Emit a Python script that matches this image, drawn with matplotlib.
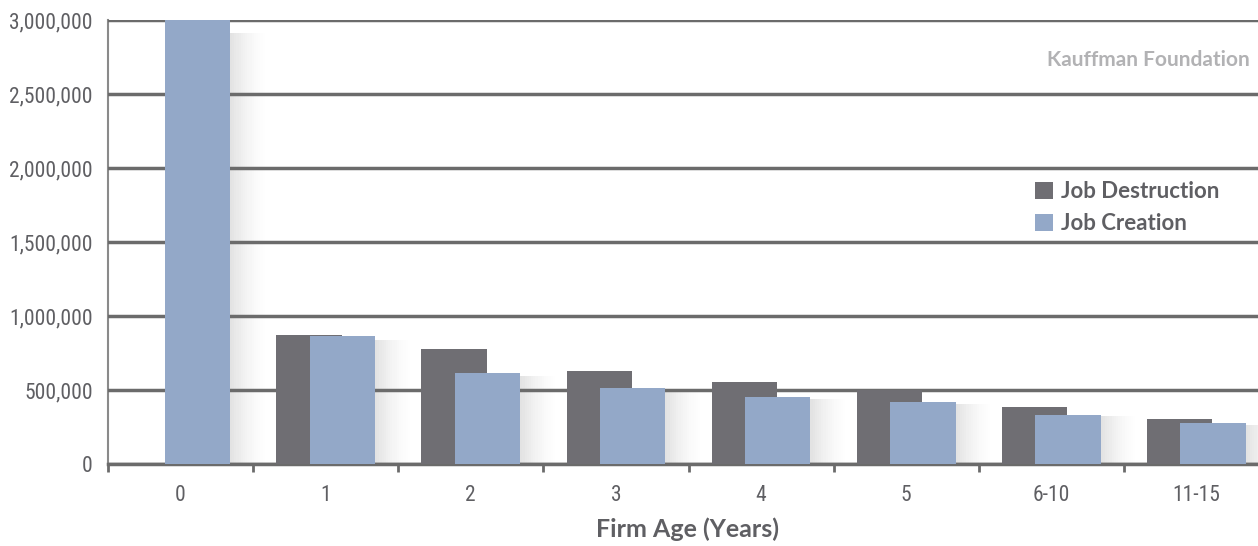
import matplotlib.pyplot as plt
import numpy as np
from matplotlib.ticker import FuncFormatter
from matplotlib.patches import Rectangle
from matplotlib import font_manager

# data
ages = ['0', '1', '2', '3', '4', '5', '6-10', '11-15']
job_destruction = [0, 875000, 777000, 628000, 552000, 500000, 387000, 302000]
job_creation = [3000000, 866000, 613000, 514000, 451000, 421000, 331000, 275000]

dark = '#6f6e73'
blue = '#93a8c8'
grid_col = '#6b6b6b'
text_col = '#5f5f63'

# a narrow face for tick labels if there is one
names = {f.name for f in font_manager.fontManager.ttflist}
narrow = None
for cand in ['Liberation Sans Narrow', 'DejaVu Sans Condensed', 'Roboto Condensed', 'Open Sans Condensed']:
    if cand in names:
        narrow = cand
        break
if narrow is None:
    narrow, tick_size = 'Roboto', 13.5
else:
    tick_size = 15.5

plt.rcParams['font.family'] = ['Lato', 'DejaVu Sans']

fig = plt.figure(figsize=(12.58, 5.46), dpi=100)
ax = fig.add_axes([108 / 1258, 1 - 464 / 546, 1161 / 1258, 444 / 546])

x = np.arange(len(ages))
w = 0.45
off = 0.115

# soft shadow right of the front bars
n = 16
for xi, h in zip(x, job_creation):
    for k in range(n):
        ax.add_patch(Rectangle((xi + off + w / 2 + k * 0.015, 0), 0.015, h * 0.97,
                               facecolor='#8c8c8c', alpha=0.24 * (1 - k / n) ** 1.5,
                               edgecolor='none', zorder=1))

ax.bar(x - off, job_destruction, w, color=dark, zorder=3, label='Job Destruction')
ax.bar(x + off, job_creation, w, color=blue, zorder=4, label='Job Creation')

ax.set_xlim(-0.5, len(ages) - 0.5)
ax.set_ylim(0, 3000000)
ax.set_yticks(np.arange(0, 3000001, 500000))
ax.yaxis.set_major_formatter(FuncFormatter(lambda v, p: f'{int(v):,}'))
ax.grid(axis='y', color=grid_col, linewidth=2.5, zorder=2)
ax.set_axisbelow(False)

ax.set_xticks(x)
ax.set_xticklabels(ages)
ax.set_xticks(np.arange(-0.5, len(ages), 1), minor=True)
ax.tick_params(axis='x', which='major', length=0, pad=15, labelsize=tick_size,
               labelcolor=text_col, labelfontfamily=narrow)
ax.tick_params(axis='x', which='minor', length=6, width=2, color=grid_col, direction='out')
ax.tick_params(axis='y', length=0, pad=11, labelsize=tick_size, labelcolor=text_col,
               labelfontfamily=narrow)

for s in ['top', 'right']:
    ax.spines[s].set_visible(False)
ax.spines['left'].set_color('#8a8a8a')
ax.spines['left'].set_linewidth(1.5)
ax.spines['bottom'].set_color(grid_col)
ax.spines['bottom'].set_linewidth(2.5)

ax.set_xlabel('Firm Age (Years)', fontsize=18, color=text_col, fontweight='bold')
ax.xaxis.set_label_coords((687 - 108) / 1161, -0.12)

fig.text(1250 / 1258, 1 - 60 / 546, 'Kauffman Foundation', ha='right', va='center',
         fontsize=15, color='#b2b2b4', fontweight='bold')

leg = ax.legend(loc='upper left', bbox_to_anchor=(1024 / 1258, 1 - 170 / 546),
                bbox_transform=fig.transFigure, frameon=False, fontsize=16,
                handlelength=0.8, handleheight=0.8, handletextpad=0.35,
                labelspacing=0.5, borderpad=0)
for t in leg.get_texts():
    t.set_color(text_col)
    t.set_fontweight('bold')

fig.savefig('out.png', dpi=100)
